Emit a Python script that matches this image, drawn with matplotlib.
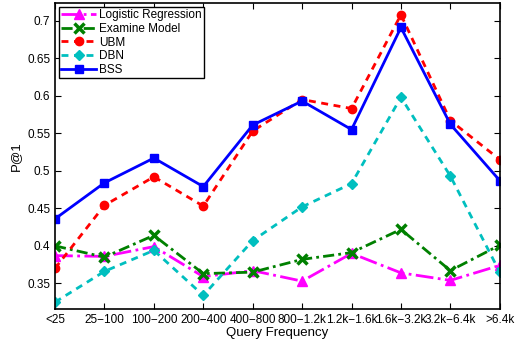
import matplotlib
matplotlib.use("Agg")
import matplotlib.pyplot as plt

categories = ["<25", "25\u2212100", "100\u2212200", "200\u2212400", "400\u2212800",
              "800\u22121.2k", "1.2k\u22121.6k", "1.6k\u22123.2k", "3.2k\u22126.4k", ">6.4k"]
logistic = [0.387, 0.386, 0.399, 0.359, 0.367, 0.353, 0.390, 0.364, 0.354, 0.374]
examine = [0.400, 0.385, 0.414, 0.363, 0.365, 0.382, 0.391, 0.422, 0.367, 0.401]
ubm = [0.370, 0.454, 0.492, 0.453, 0.553, 0.595, 0.583, 0.708, 0.567, 0.515]
dbn = [0.325, 0.366, 0.394, 0.334, 0.407, 0.452, 0.483, 0.598, 0.493, 0.365]
bss = [0.436, 0.484, 0.517, 0.479, 0.561, 0.593, 0.555, 0.691, 0.562, 0.487]
yticks = [0.35, 0.4, 0.45, 0.5, 0.55, 0.6, 0.65, 0.7]
ytick_labels = ["0.35", "0.4", "0.45", "0.5", "0.55", "0.6", "0.65", "0.7"]

plt.rcParams['font.family'] = ['Liberation Sans', 'DejaVu Sans']
fig = plt.figure(figsize=(5.19, 3.44), dpi=100)
ax = fig.add_axes([0.106, 0.102, 0.857, 0.889])
x = list(range(1, len(categories) + 1))

ax.plot(x, logistic, color='magenta', linestyle='-.', linewidth=2, marker='^', markersize=7,
        label='Logistic Regression')
ax.plot(x, examine, color=(0, 0.5, 0), linestyle=(0, (4, 1.5, 1, 1.5)), linewidth=2, marker='x',
        markersize=7, markeredgewidth=2.5, label='Examine Model')
ax.plot(x, ubm, color='red', linestyle=(0, (2.5, 2)), linewidth=2, marker='o', markersize=6,
        label='UBM')
ax.plot(x, dbn, color=(0, 0.75, 0.75), linestyle=(0, (2.5, 2)), linewidth=2, marker='D', markersize=5.5,
        label='DBN')
ax.plot(x, bss, color='blue', linestyle='-', linewidth=2, marker='s', markersize=6,
        label='BSS')

ax.set_xlim(1, 10)
ax.set_ylim(0.316, 0.7235)
ax.set_xticks(x)
ax.set_xticklabels(categories, fontsize=8.5)
ax.set_yticks(yticks)
ax.set_yticklabels(ytick_labels, fontsize=8.5)
ax.tick_params(direction='in', top=True, right=True, length=4, width=0.8)
for s in ax.spines.values():
    s.set_linewidth(1.2)
ax.set_xlabel('Query Frequency', fontsize=9.5, labelpad=1)
ax.set_ylabel('P@1', fontsize=9.5)

leg = ax.legend(loc='upper left', fontsize=8.5, fancybox=False, edgecolor='black',
                framealpha=1, borderpad=0.2, labelspacing=0.15, handlelength=3,
                handletextpad=0.2, borderaxespad=0.3)
leg.get_frame().set_linewidth(1.0)

fig.savefig('out.png', dpi=100)
